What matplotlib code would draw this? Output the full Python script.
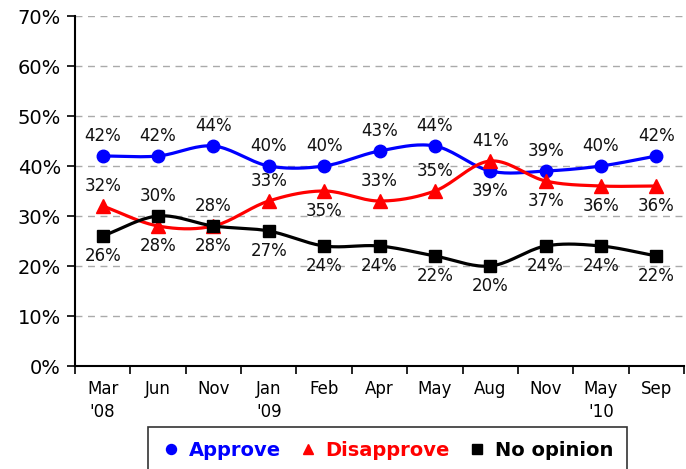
import matplotlib.pyplot as plt
import numpy as np

# Survey periods and percentages
periods = ["Mar\n'08", "Jun", "Nov", "Jan\n'09", "Feb", "Apr", "May",
           "Aug", "Nov", "May\n'10", "Sep"]
approve = [42, 42, 44, 40, 40, 43, 44, 39, 39, 40, 42]
disapprove = [32, 28, 28, 33, 35, 33, 35, 41, 37, 36, 36]
no_opinion = [26, 30, 28, 27, 24, 24, 22, 20, 24, 24, 22]

# label above (+1) or below (-1) each point
approve_side = [1, 1, 1, 1, 1, 1, 1, -1, 1, 1, 1]
disapprove_side = [1, -1, -1, 1, -1, 1, 1, 1, -1, -1, -1]
no_opinion_side = [-1, 1, 1, -1, -1, -1, -1, -1, -1, -1, -1]


def smooth(x, y, n=20):
    # Catmull-Rom curve through the points, like Excel's smoothed line
    x = np.asarray(x, float)
    y = np.asarray(y, float)
    px = np.concatenate([[2 * x[0] - x[1]], x, [2 * x[-1] - x[-2]]])
    py = np.concatenate([[2 * y[0] - y[1]], y, [2 * y[-1] - y[-2]]])
    t = np.linspace(0, 1, n)[:, None]
    xs, ys = [], []
    for i in range(1, len(px) - 2):
        for arr, out in ((px, xs), (py, ys)):
            p0, p1, p2, p3 = arr[i - 1], arr[i], arr[i + 1], arr[i + 2]
            seg = 0.5 * ((2 * p1) + (-p0 + p2) * t
                         + (2 * p0 - 5 * p1 + 4 * p2 - p3) * t ** 2
                         + (-p0 + 3 * p1 - 3 * p2 + p3) * t ** 3)
            out.append(seg.ravel())
    return np.concatenate(xs), np.concatenate(ys)


fig = plt.figure(figsize=(6.86, 4.69), dpi=100)
ax = fig.add_axes([75 / 686, 1 - 366 / 469, 609 / 686, 350 / 469])

x = np.arange(len(periods))
series = [
    (approve, approve_side, '#0000ff', 'o', 9, 'Approve'),
    (disapprove, disapprove_side, '#ff0000', '^', 9.5, 'Disapprove'),
    (no_opinion, no_opinion_side, '#000000', 's', 8.5, 'No opinion'),
]

handles = []
for vals, sides, col, mk, ms, name in series:
    sx, sy = smooth(x, vals)
    ax.plot(sx, sy, color=col, lw=2.3, zorder=3, solid_capstyle='round')
    h, = ax.plot(x, vals, ls='none', marker=mk, ms=ms, color=col, zorder=4,
                 label=name)
    handles.append(h)
    for xi, v, s in zip(x, vals, sides):
        ax.annotate(f'{v}%', (xi, v), xytext=(0, 14.5 * s), textcoords='offset points',
                    ha='center', va='center', fontsize=12, color='#111111', zorder=5)

ax.set_xlim(-0.5, len(periods) - 0.5)
ax.set_ylim(0, 70)
ax.set_yticks(range(0, 71, 10))
ax.set_yticklabels([f'{v}%' for v in range(0, 71, 10)], fontsize=14)
for v in range(10, 71, 10):
    ax.axhline(v, color='#aaaaaa', lw=1, ls=(0, (5, 4)), zorder=1)

ax.set_xticks(np.arange(-0.5, len(periods), 1))
ax.set_xticklabels([])
ax.set_xticks(x, minor=True)
ax.set_xticklabels(periods, minor=True, fontsize=12, linespacing=1.4)
ax.tick_params(axis='x', which='minor', length=0, pad=10)
ax.tick_params(axis='x', which='major', length=6, width=1.2, direction='out')
ax.tick_params(axis='y', length=6, width=1.2, direction='out', pad=4)

for side in ['top', 'right']:
    ax.spines[side].set_visible(False)
for side in ['left', 'bottom']:
    ax.spines[side].set_linewidth(1.5)

leg = fig.legend(handles=handles, loc='upper left',
                 bbox_to_anchor=(148 / 686, 1 - 427 / 469), ncol=3,
                 frameon=True, fancybox=False, edgecolor='black',
                 prop={'weight': 'bold', 'size': 14}, handlelength=1.0,
                 handletextpad=0.4, columnspacing=0.9, borderpad=0.7,
                 borderaxespad=0, markerscale=0.8)
leg.get_frame().set_linewidth(1.2)
for txt, (_, _, col, _, _, _) in zip(leg.get_texts(), series):
    txt.set_color(col)

fig.savefig('out.png', dpi=100)
